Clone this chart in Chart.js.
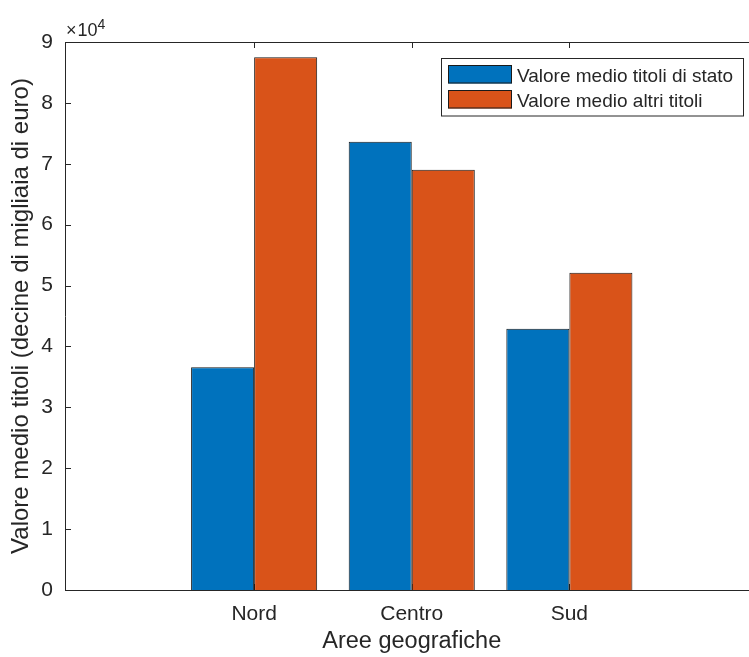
<!DOCTYPE html>
<html>
<head>
<meta charset="utf-8">
<script src="https://cdn.jsdelivr.net/npm/chart.js@4.4.1/dist/chart.umd.min.js"></script>
<style>
    html, body { margin: 0; padding: 0; overflow: hidden; background: #ffffff; }
    #wrap { width: 749px; height: 657px; overflow: hidden; }
</style>
</head>
<body>
<div id="wrap"><canvas id="chart" width="760" height="657"></canvas></div>
<script>
//data
var regions = ['Nord', 'Centro', 'Sud'];
var valoriStato = [36600, 73600, 42900];
var valoriAltri = [87500, 69000, 52100];
var yTicks = [0, 1, 2, 3, 4, 5, 6, 7, 8, 9];
var yScaleExp = 4;

//labels
var seriesLabels = ['Valore medio titoli di stato', 'Valore medio altri titoli'];
var xTitle = 'Aree geografiche';
var yTitle = 'Valore medio titoli (decine di migliaia di euro)';

//options
var fontFamily = '"Liberation Sans", Arial, Helvetica, sans-serif';
var axisColor = '#262626';
var colors = ['#0072BD', '#D95319'];

function toPoints (values) {
    var pts = [];
    for (var i = 0; i < values.length; i++) {
        pts.push({x: i + 1, y: values[i]});
    }
    return pts;
}

//================================================================================
// matlab style box, inward ticks and the x10^4 label
//================================================================================
var axesBox = {
    id: 'axesBox',
    beforeDatasetsDraw: function (chart) {
        var ctx = chart.ctx;
        var a = chart.chartArea;
        var xs = chart.scales.x;
        var ys = chart.scales.y;
        var tl = 6;
        ctx.save();
        ctx.strokeStyle = axisColor;
        ctx.lineWidth = 1;
        ctx.beginPath();
        ctx.moveTo(a.right, a.top + 0.5);
        ctx.lineTo(a.left + 0.5, a.top + 0.5);
        ctx.lineTo(a.left + 0.5, a.bottom + 0.5);
        ctx.lineTo(a.right, a.bottom + 0.5);
        for (var i = 0; i < yTicks.length; i++) {
            var py = Math.round(ys.getPixelForValue(yTicks[i] * Math.pow(10, yScaleExp))) + 0.5;
            ctx.moveTo(a.left, py);
            ctx.lineTo(a.left + tl, py);
        }
        for (var j = 0; j < regions.length; j++) {
            var px = Math.round(xs.getPixelForValue(j + 1)) + 0.5;
            ctx.moveTo(px, a.top);
            ctx.lineTo(px, a.top + tl);
            ctx.moveTo(px, a.bottom);
            ctx.lineTo(px, a.bottom - tl);
        }
        ctx.stroke();

        //exponent label
        ctx.fillStyle = axisColor;
        ctx.textBaseline = 'alphabetic';
        ctx.textAlign = 'left';
        ctx.font = '18px ' + fontFamily;
        ctx.fillText('\u00D7', a.left + 1, a.top - 6);
        ctx.fillText('10', a.left + 12.5, a.top - 6);
        ctx.font = '14px ' + fontFamily;
        ctx.fillText(String(yScaleExp), a.left + 32.5, a.top - 13.5);
        ctx.restore();
    }
};

var boxLegend = {
    id: 'boxLegend',
    afterDraw: function (chart) {
        var ctx = chart.ctx;
        var ds = chart.data.datasets;
        var left = 441.5, top = 58.5, w = 302, h = 57.5;
        ctx.save();
        ctx.fillStyle = '#ffffff';
        ctx.fillRect(left, top, w, h);
        ctx.strokeStyle = axisColor;
        ctx.lineWidth = 1;
        ctx.strokeRect(left, top, w, h);
        ctx.font = '19px ' + fontFamily;
        ctx.textBaseline = 'alphabetic';
        ctx.textAlign = 'left';
        for (var i = 0; i < ds.length; i++) {
            var y0 = 65 + i * 25;
            ctx.fillStyle = ds[i].backgroundColor;
            ctx.fillRect(448, y0, 64, 18.5);
            ctx.strokeStyle = '#1a1a1a';
            ctx.strokeRect(448.5, y0 + 0.5, 63, 17.5);
            ctx.fillStyle = axisColor;
            ctx.fillText(ds[i].label, 517, y0 + 16.5);
        }
        ctx.restore();
    }
};

var chart = new Chart(document.getElementById('chart'), {
    type: 'bar',
    data: {
        datasets: [
            {
                label: seriesLabels[0],
                data: toPoints(valoriStato),
                backgroundColor: colors[0],
                borderColor: '#1a1a1a',
                borderWidth: 1
            },
            {
                label: seriesLabels[1],
                data: toPoints(valoriAltri),
                backgroundColor: colors[1],
                borderColor: '#1a1a1a',
                borderWidth: 1
            }
        ]
    },
    options: {
        responsive: false,
        animation: false,
        devicePixelRatio: 1,
        layout: { padding: { top: 42, right: 1.5, left: 0, bottom: 0 } },
        datasets: { bar: { categoryPercentage: 0.8, barPercentage: 1.0 } },
        plugins: {
            legend: { display: false },
            tooltip: { enabled: false }
        },
        scales: {
            x: {
                type: 'linear',
                position: 'bottom',
                min: -0.2,
                max: 4.2,
                bounds: 'data',
                offset: false,
                grid: { display: false, drawTicks: false, offset: false },
                border: { display: false },
                afterBuildTicks: function (scale) {
                    scale.ticks = regions.map(function (r, i) { return {value: i + 1}; });
                },
                afterFit: function (scale) { scale.height = 67; },
                ticks: {
                    autoSkip: false,
                    maxRotation: 0,
                    padding: 12,
                    color: axisColor,
                    font: { family: fontFamily, size: 21 },
                    callback: function (v) { return regions[Math.round(v) - 1]; }
                },
                title: {
                    display: true,
                    text: xTitle,
                    color: axisColor,
                    font: { family: fontFamily, size: 23.5 },
                    padding: { top: 0, bottom: 1 }
                }
            },
            y: {
                min: 0,
                max: 90000,
                grid: { display: false, drawTicks: false },
                border: { display: false },
                afterFit: function (scale) { scale.width = 65; },
                ticks: {
                    stepSize: 10000,
                    padding: 12,
                    color: axisColor,
                    font: { family: fontFamily, size: 21 },
                    callback: function (v) { return v / Math.pow(10, yScaleExp); }
                },
                title: {
                    display: true,
                    text: yTitle,
                    color: axisColor,
                    font: { family: fontFamily, size: 24 },
                    padding: { top: 6.5, bottom: 0 }
                }
            }
        }
    },
    plugins: [axesBox, boxLegend]
});
</script>
</body>
</html>
